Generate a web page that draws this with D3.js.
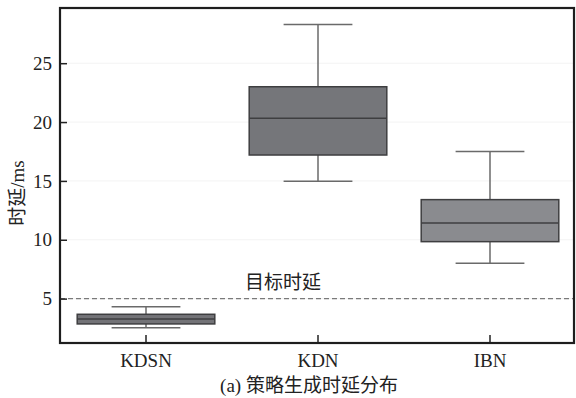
<!DOCTYPE html>
<html>
<head>
<meta charset="utf-8">
<script src="https://cdn.jsdelivr.net/npm/d3@7"></script>
<style>
  html, body { margin: 0; padding: 0; background: #fff; }
  svg { display: block; }
  text { fill: #222; }
</style>
</head>
<body>
<svg id="chart" width="576" height="398"></svg>
<script>
// Strategy generation latency per scheme (ms)
const categories = ["KDSN", "KDN", "IBN"];
const whiskerLow  = [2.53, 14.97, 8.0];
const quartile1   = [2.85, 17.2, 9.84];
const medians     = [3.27, 20.32, 11.43];
const quartile3   = [3.67, 23.0, 13.41];
const whiskerHigh = [4.32, 28.28, 17.49];
const boxFills    = ["#737377", "#75767a", "#8a8b8f"];
const yTicks = [5, 10, 15, 20, 25];
const targetLatency = 5;
const targetLabel = "目标时延";
const yLabel = "时延/ms";
const caption = "(a) 策略生成时延分布";

const SERIF = "'Liberation Serif', 'Times New Roman', Times, 'DejaVu Serif', 'Noto Sans CJK SC', serif";

const svg = d3.select("#chart");
const plotL = 60, plotR = 574, plotT = 8, plotB = 343;

const x = d3.scaleBand().domain(categories).range([plotL, 576]).paddingInner(0.2).paddingOuter(0.1);
const y = d3.scaleLinear().domain([1.23, 29.69]).range([plotB, plotT]);

// faint horizontal grid
svg.append("g").selectAll("line").data(yTicks).join("line")
  .attr("x1", plotL).attr("x2", plotR)
  .attr("y1", d => y(d)).attr("y2", d => y(d))
  .attr("stroke", "#f3f3f3").attr("stroke-width", 1);

// target latency reference
svg.append("line")
  .attr("x1", plotL).attr("x2", plotR)
  .attr("y1", y(targetLatency)).attr("y2", y(targetLatency))
  .attr("stroke", "#7a7a7a").attr("stroke-width", 1.3)
  .attr("stroke-dasharray", "5,3");
svg.append("text")
  .style("font-family", SERIF)
  .attr("x", 245).attr("y", y(targetLatency) - 10)
  .attr("font-size", 19).text(targetLabel);

// boxes
const boxes = svg.append("g").selectAll("g").data(categories).join("g");
const bw = x.bandwidth();
const capW = bw * 0.5;
boxes.each(function(c, i) {
  const g = d3.select(this);
  const cx = x(c) + bw / 2;
  g.append("line").attr("x1", cx).attr("x2", cx)
    .attr("y1", y(whiskerHigh[i])).attr("y2", y(quartile3[i]))
    .attr("stroke", "#6a6a6a").attr("stroke-width", 1.5);
  g.append("line").attr("x1", cx).attr("x2", cx)
    .attr("y1", y(quartile1[i])).attr("y2", y(whiskerLow[i]))
    .attr("stroke", "#6a6a6a").attr("stroke-width", 1.5);
  [whiskerHigh[i], whiskerLow[i]].forEach(v => {
    g.append("line").attr("x1", cx - capW / 2).attr("x2", cx + capW / 2)
      .attr("y1", y(v)).attr("y2", y(v))
      .attr("stroke", "#6a6a6a").attr("stroke-width", 1.5);
  });
  g.append("rect")
    .attr("x", x(c)).attr("width", bw)
    .attr("y", y(quartile3[i])).attr("height", y(quartile1[i]) - y(quartile3[i]))
    .attr("fill", boxFills[i]).attr("stroke", "#3e3e40").attr("stroke-width", 1.5);
  g.append("line").attr("x1", x(c)).attr("x2", x(c) + bw)
    .attr("y1", y(medians[i])).attr("y2", y(medians[i]))
    .attr("stroke", "#3e3e40").attr("stroke-width", 1.5);
});

// y axis (inward ticks)
const yAxis = svg.append("g").attr("transform", `translate(${plotL},0)`)
  .call(d3.axisLeft(y).tickValues(yTicks).tickSize(-7).tickPadding(8));
yAxis.select(".domain").remove();
yAxis.selectAll(".tick line").attr("stroke", "#222").attr("stroke-width", 1.5);
yAxis.selectAll(".tick text").attr("font-size", 19).attr("fill", "#222")
  .style("font-family", SERIF);

// x axis (inward ticks)
const xAxis = svg.append("g").attr("transform", `translate(0,${plotB})`)
  .call(d3.axisBottom(x).tickSize(-8).tickPadding(10.5));
xAxis.select(".domain").remove();
xAxis.selectAll(".tick line").attr("stroke", "#222").attr("stroke-width", 1.5);
xAxis.selectAll(".tick text").attr("font-size", 19).attr("fill", "#222")
  .style("font-family", SERIF);

// frame
svg.append("rect").attr("x", plotL).attr("y", plotT)
  .attr("width", plotR - plotL).attr("height", plotB - plotT)
  .attr("fill", "none").attr("stroke", "#1e1e1e").attr("stroke-width", 2.2);

// axis title and caption
svg.append("text")
  .style("font-family", SERIF)
  .attr("transform", `translate(24,193) rotate(-90)`)
  .attr("text-anchor", "middle").attr("font-size", 19).text(yLabel);
svg.append("text")
  .style("font-family", SERIF)
  .attr("x", 309).attr("y", 392)
  .attr("text-anchor", "middle").attr("font-size", 19).text(caption);
</script>
</body>
</html>
